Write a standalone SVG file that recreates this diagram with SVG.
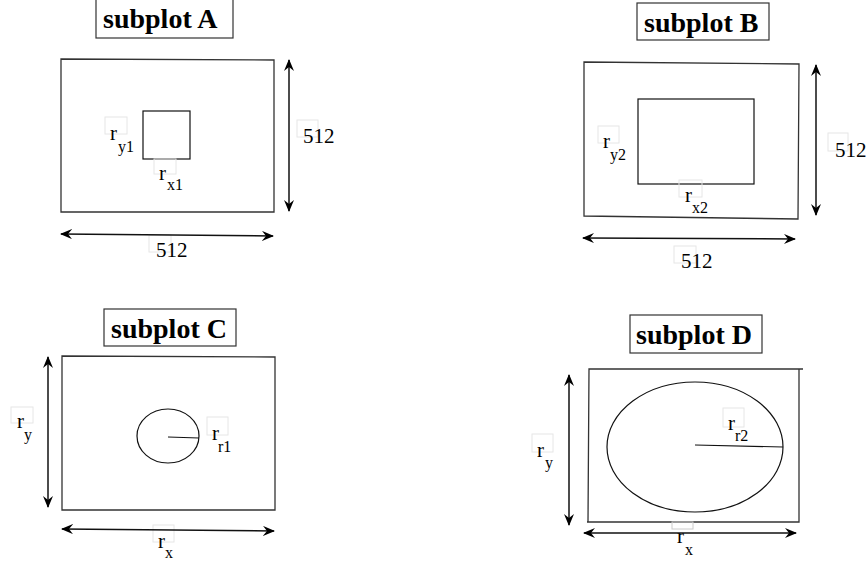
<svg xmlns="http://www.w3.org/2000/svg" width="868" height="565" viewBox="0 0 868 565" font-family="'Liberation Serif', 'Times New Roman', serif">
<defs>
<marker id="ah" viewBox="0 0 12 10" refX="11" refY="5" markerWidth="12" markerHeight="10" markerUnits="userSpaceOnUse" orient="auto-start-reverse">
<path d="M0,0 L12,5 L0,10 L4,5 z" fill="#000"/>
</marker>
</defs>
<style>
text{font-family:'Liberation Serif','Times New Roman',serif}
.frame{fill:none;stroke:#333;stroke-width:1.3}
.shape{fill:none;stroke:#111;stroke-width:1.2}
.tbox{fill:#fff;stroke:#333;stroke-width:1.2}
.title{font-weight:bold;font-size:28px;fill:#000}
.lbl{font-size:21px;fill:#000}
.sub{font-size:16px;fill:#000}
.ghost{fill:none;stroke:#e6e6e6;stroke-width:1}
.arr{fill:none;stroke:#111;stroke-width:1.5;marker-start:url(#ah);marker-end:url(#ah)}
</style>
<rect width="868" height="565" fill="#fff"/>

<g id="subplotA">
<rect class="tbox" x="96" y="-1" width="137" height="39"/>
<text class="title" x="103" y="28">subplot A</text>
<polygon class="frame" points="61,59 274,60 274,212 61,212"/>
<rect class="shape" x="143" y="111" width="47" height="48"/>
<rect class="ghost" x="105" y="117" width="22" height="17"/>
<text class="lbl" x="110" y="140">r</text><text class="sub" x="118" y="152">y1</text>
<rect class="ghost" x="154" y="159" width="22" height="15"/>
<text class="lbl" x="159" y="180">r</text><text class="sub" x="167" y="190">x1</text>
<rect class="ghost" x="297" y="120" width="21" height="17"/>
<text class="lbl" x="303" y="143">512</text>
<rect class="ghost" x="149" y="235" width="22" height="17"/>
<text class="lbl" x="156" y="257">512</text>
</g>

<g id="subplotB">
<rect class="tbox" x="637" y="3" width="132" height="37"/>
<text class="title" x="644" y="32">subplot B</text>
<polygon class="frame" points="584,62 799,64 798,219 584,216"/>
<rect class="shape" x="638" y="99" width="116" height="85"/>
<rect class="ghost" x="598" y="126" width="21" height="17"/>
<text class="lbl" x="603" y="148">r</text><text class="sub" x="610" y="160">y2</text>
<rect class="ghost" x="679" y="180" width="23" height="17"/>
<text class="lbl" x="685" y="202">r</text><text class="sub" x="692" y="213">x2</text>
<rect class="ghost" x="828" y="133" width="20" height="18"/>
<text class="lbl" x="835" y="157">512</text>
<rect class="ghost" x="674" y="246" width="22" height="17"/>
<text class="lbl" x="681" y="268">512</text>
</g>

<g id="subplotC">
<rect class="tbox" x="104" y="309" width="132" height="37"/>
<text class="title" x="111" y="338">subplot C</text>
<polygon class="frame" points="62,356 275,357 275,510 62,510"/>
<ellipse class="shape" cx="168" cy="436" rx="31" ry="27"/>
<line class="shape" x1="168" y1="437" x2="199" y2="438"/>
<rect class="ghost" x="207" y="417" width="21" height="18"/>
<text class="lbl" x="212" y="440">r</text><text class="sub" x="218" y="452">r1</text>
<rect class="ghost" x="11" y="407" width="22" height="16"/>
<text class="lbl" x="17" y="428">r</text><text class="sub" x="24" y="440">y</text>
<rect class="ghost" x="153" y="525" width="21" height="17"/>
<text class="lbl" x="158" y="548">r</text><text class="sub" x="165" y="558">x</text>
</g>

<g id="subplotD">
<rect class="tbox" x="630" y="315" width="132" height="38"/>
<text class="title" x="636" y="344">subplot D</text>
<polyline class="frame" points="803,369 589,369 588,522"/>
<polyline class="frame" points="799,369 799,522 587,522"/>
<ellipse class="shape" cx="695" cy="447" rx="88" ry="65"/>
<line class="shape" x1="695" y1="445" x2="783" y2="447"/>
<rect class="ghost" x="723" y="408" width="21" height="19"/>
<text class="lbl" x="728" y="430">r</text><text class="sub" x="735" y="441">r2</text>
<rect class="ghost" x="532" y="434" width="21" height="18"/>
<text class="lbl" x="537" y="457">r</text><text class="sub" x="545" y="468">y</text>
<rect class="ghost" x="672" y="522" width="21" height="7" style="stroke:#ccc"/>
<text class="lbl" x="677" y="543">r</text><text class="sub" x="685" y="555">x</text>
</g>

<g id="connectors">
<line class="arr" x1="289" y1="60" x2="289" y2="211"/>
<line class="arr" x1="61" y1="234" x2="273" y2="236"/>
<line class="arr" x1="816" y1="65" x2="816" y2="215"/>
<line class="arr" x1="583" y1="238" x2="795" y2="239"/>
<line class="arr" x1="48" y1="357" x2="48" y2="507"/>
<line class="arr" x1="62" y1="529" x2="274" y2="531"/>
<line class="arr" x1="569" y1="375" x2="569" y2="525"/>
<line class="arr" x1="584" y1="533" x2="796" y2="533"/>
</g>
</svg>
